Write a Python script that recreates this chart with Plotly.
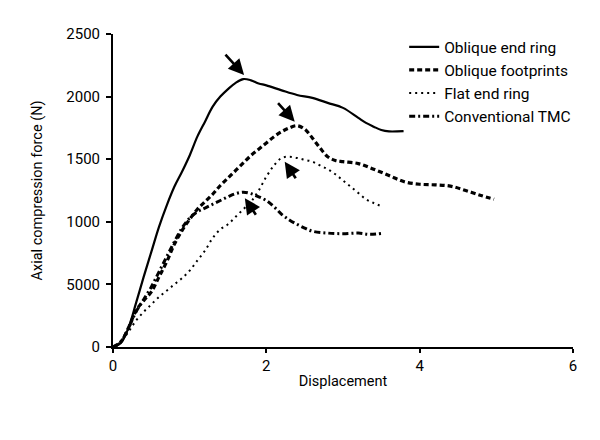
import plotly.graph_objects as go

# Oblique end ring (solid)
x_oer = [0, 0.1, 0.2, 0.3, 0.4, 0.5, 0.6, 0.7, 0.8, 0.9, 1.0, 1.1, 1.2, 1.3, 1.4, 1.5, 1.6, 1.7, 1.8, 1.9, 2.0, 2.2, 2.4, 2.6, 2.8, 3.0, 3.2, 3.3, 3.4, 3.5, 3.6, 3.79]
y_oer = [0, 30, 150, 350, 560, 760, 960, 1130, 1280, 1400, 1530, 1680, 1800, 1920, 2000, 2060, 2110, 2140, 2130, 2105, 2090, 2050, 2013, 1990, 1950, 1910, 1830, 1790, 1760, 1733, 1722, 1725]

# Oblique footprints (dashed)
x_ofp = [0, 0.1, 0.2, 0.3, 0.4, 0.5, 0.6, 0.7, 0.8, 0.9, 1.0, 1.1, 1.2, 1.3, 1.4, 1.5, 1.6, 1.7, 1.8, 1.9, 2.0, 2.1, 2.2, 2.3, 2.4, 2.5, 2.6, 2.7, 2.8, 2.9, 3.0, 3.2, 3.4, 3.6, 3.8, 4.0, 4.2, 4.4, 4.6, 4.8, 4.97]
y_ofp = [0, 40, 150, 290, 370, 440, 560, 680, 820, 930, 1020, 1100, 1160, 1220, 1290, 1350, 1410, 1470, 1530, 1580, 1630, 1680, 1720, 1750, 1768, 1740, 1670, 1590, 1520, 1490, 1480, 1465, 1420, 1370, 1320, 1300, 1295, 1285, 1250, 1210, 1180]

# Flat end ring (dotted)
x_fer = [0, 0.1, 0.2, 0.3, 0.4, 0.5, 0.6, 0.7, 0.8, 0.9, 1.0, 1.1, 1.2, 1.3, 1.4, 1.5, 1.6, 1.7, 1.8, 1.9, 2.0, 2.1, 2.2, 2.3, 2.4, 2.5, 2.6, 2.7, 2.8, 2.9, 3.0, 3.1, 3.2, 3.3, 3.4, 3.5]
y_fer = [0, 40, 120, 210, 280, 340, 400, 450, 500, 550, 610, 690, 770, 870, 940, 980, 1040, 1100, 1160, 1250, 1360, 1450, 1510, 1520, 1510, 1495, 1480, 1450, 1420, 1380, 1330, 1280, 1230, 1180, 1150, 1125]

# Conventional TMC (dash-dot)
x_tmc = [0, 0.1, 0.2, 0.3, 0.4, 0.5, 0.6, 0.7, 0.8, 0.9, 1.0, 1.1, 1.2, 1.3, 1.4, 1.5, 1.6, 1.7, 1.8, 1.9, 2.0, 2.1, 2.2, 2.3, 2.4, 2.5, 2.6, 2.8, 3.0, 3.2, 3.35, 3.52]
y_tmc = [0, 40, 150, 280, 380, 480, 600, 720, 840, 950, 1030, 1080, 1110, 1140, 1170, 1200, 1225, 1237, 1225, 1200, 1170, 1120, 1060, 1015, 980, 950, 925, 910, 905, 910, 900, 908]

# peak arrows: (x, y, ax, ay)
arrow_x = [1.71, 2.37, 2.24, 1.72]
arrow_y = [2172, 1800, 1480, 1188]
arrow_ax = [-20, -18, 12, 12]
arrow_ay = [-22, -20, 18, 18]

x_ticks = [0, 2, 4, 6]
y_tickvals = [0, 500, 1000, 1500, 2000, 2500]
y_ticktext = ["0", "5000", "1000", "1500", "2000", "2500"]

FONT = "Roboto, sans-serif"

fig = go.Figure()
fig.add_trace(go.Scatter(x=x_oer, y=y_oer, mode="lines", name="Oblique end ring",
                         line=dict(color="black", width=2.2, dash="solid", shape="spline")))
fig.add_trace(go.Scatter(x=x_ofp, y=y_ofp, mode="lines", name="Oblique footprints",
                         line=dict(color="black", width=3.2, dash="5px,3px", shape="spline")))
fig.add_trace(go.Scatter(x=x_fer, y=y_fer, mode="lines", name="Flat end ring",
                         line=dict(color="black", width=2, dash="2px,4px", shape="spline")))
fig.add_trace(go.Scatter(x=x_tmc, y=y_tmc, mode="lines", name="Conventional TMC",
                         line=dict(color="black", width=3, dash="6px,3px,2px,3px", shape="spline")))

for xa, ya, dx, dy in zip(arrow_x, arrow_y, arrow_ax, arrow_ay):
    fig.add_annotation(x=xa, y=ya, ax=dx, ay=dy, xref="x", yref="y", text="",
                       showarrow=True, arrowhead=2, arrowsize=1.2, arrowwidth=2.6,
                       arrowcolor="black")

fig.update_layout(
    width=600, height=440,
    margin=dict(l=105, r=35, t=26, b=101),
    plot_bgcolor="white", paper_bgcolor="white",
    font=dict(family=FONT, size=15, color="black"),
    showlegend=True,
    legend=dict(x=0.633, y=1.012, xanchor="left", yanchor="top",
                bgcolor="rgba(0,0,0,0)", itemwidth=30, tracegroupgap=0,
                font=dict(size=15.5)),
    xaxis=dict(range=[0, 6], tickvals=x_ticks, showgrid=False, zeroline=False,
               showline=True, linecolor="black", linewidth=2,
               ticks="outside", ticklen=4, tickwidth=1.5, tickcolor="black",
               tickfont=dict(size=15),
               title=dict(text="Displacement", standoff=2, font=dict(size=14.5))),
    yaxis=dict(range=[0, 2500], tickvals=y_tickvals, ticktext=y_ticktext,
               showgrid=False, zeroline=False,
               showline=True, linecolor="black", linewidth=2,
               ticks="outside", ticklen=5, tickwidth=1.5, tickcolor="black",
               tickfont=dict(size=15), ticklabelstandoff=3,
               title=dict(text="Axial compression force (N)", standoff=20, font=dict(size=14.5))),
)

fig.write_html("out.html")
